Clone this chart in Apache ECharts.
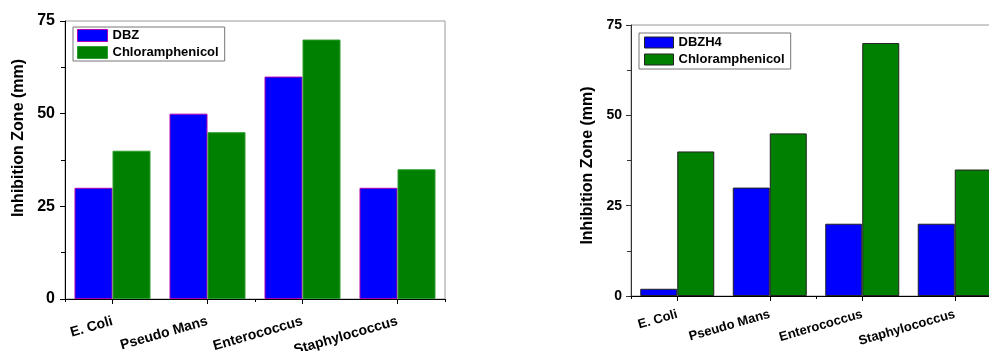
<!DOCTYPE html>
<html>
<head>
<meta charset="utf-8">
<script src="https://cdn.jsdelivr.net/npm/echarts@6/dist/echarts.min.js"></script>
<style>
html,body{margin:0;padding:0;background:#fff;}
#c{width:989px;height:351px;}
</style>
</head>
<body>
<div id="c"></div>
<script>
const categories = ['E. Coli', 'Pseudo Mans', 'Enterococcus', 'Staphylococcus'];
const dbz = [30, 50, 60, 30];
const chlorLeft = [40, 45, 70, 35];
const dbzh4 = [2, 30, 20, 20];
const chlorRight = [40, 45, 70, 35];
const yTicks = [0, 25, 50, 75];

const FONT = '"Liberation Sans", Arial, sans-serif';
const BLUE = '#0000ff';
const GREEN = '#008000';

function catAxes(gridIndex, labelSize, margin) {
  return [
    {
      type: 'category', gridIndex: gridIndex, data: categories, position: 'bottom',
      axisLine: { show: true, lineStyle: { color: '#000', width: 1 } },
      axisTick: { show: true, alignWithLabel: true, length: 5, lineStyle: { color: '#000' } },
      axisLabel: { rotate: 16, margin: margin, color: '#000', fontFamily: FONT, fontWeight: 'bold', fontSize: labelSize, interval: 0 },
      splitLine: { show: false }
    },
    {
      type: 'category', gridIndex: gridIndex, data: categories, position: 'bottom',
      axisLine: { show: false },
      axisTick: { show: true, alignWithLabel: false, length: 3, lineStyle: { color: '#000' } },
      axisLabel: { show: false },
      splitLine: { show: false }
    }
  ];
}

function valAxis(gridIndex, labelSize, margin, nameGap, pad, lineColor) {
  return {
    type: 'value', gridIndex: gridIndex, min: yTicks[0], max: yTicks[yTicks.length - 1], interval: 25,
    name: 'Inhibition Zone (mm)', nameLocation: 'middle', nameGap: nameGap,
    nameTextStyle: { color: '#000', fontFamily: FONT, fontWeight: 'bold', fontSize: 16, padding: pad },
    axisLine: { show: true, lineStyle: { color: lineColor, width: 1 } },
    axisTick: { show: true, length: 5, lineStyle: { color: lineColor } },
    minorTick: { show: true, splitNumber: 2, length: 4, lineStyle: { color: lineColor } },
    axisLabel: { color: '#000', fontFamily: FONT, fontWeight: 'bold', fontSize: labelSize, margin: margin },
    splitLine: { show: false }
  };
}

const chart = echarts.init(document.getElementById('c'), null, { renderer: 'canvas' });
chart.setOption({
  animation: false,
  backgroundColor: '#fff',
  grid: [
    { left: 65, top: 21, width: 380, height: 278, outerBoundsMode: 'none', containLabel: false, show: true, borderColor: '#999', borderWidth: 1, backgroundColor: 'transparent' },
    { left: 631, top: 25, width: 370, height: 271, outerBoundsMode: 'none', containLabel: false, show: true, borderColor: '#999', borderWidth: 1, backgroundColor: 'transparent' }
  ],
  xAxis: catAxes(0, 14, 22).concat(catAxes(1, 13, 18)),
  yAxis: [
    valAxis(0, 16, 10, 38, [0, 0, 0, 44], '#000'),
    valAxis(1, 14, 9, 35, [0, 10, 0, 0], '#333')
  ],
  legend: [
    {
      left: 73, top: 27, orient: 'vertical', itemWidth: 30, itemHeight: 12, itemGap: 4,
      padding: [2, 6, 2, 4], borderColor: '#777', borderWidth: 1, backgroundColor: '#fff',
      textStyle: { color: '#000', fontFamily: FONT, fontWeight: 'bold', fontSize: 13 },
      icon: 'rect',
      data: [
        { name: 'DBZ', itemStyle: { borderColor: '#b000b0', borderWidth: 1 } },
        { name: 'Chloramphenicol', itemStyle: { color: GREEN, borderColor: '#2e9e2e', borderWidth: 1 } }
      ]
    },
    {
      left: 639, top: 33, orient: 'vertical', itemWidth: 29, itemHeight: 11, itemGap: 4,
      padding: [3, 6, 3, 5], borderColor: '#777', borderWidth: 1, backgroundColor: '#fff',
      textStyle: { color: '#000', fontFamily: FONT, fontWeight: 'bold', fontSize: 13 },
      icon: 'rect',
      data: [
        { name: 'DBZH4', itemStyle: { borderColor: '#222', borderWidth: 1 } },
        { name: 'Chloramphenicol', itemStyle: { color: GREEN, borderColor: '#222', borderWidth: 1 } }
      ]
    }
  ],
  series: [
    { name: 'DBZ', type: 'bar', xAxisIndex: 0, yAxisIndex: 0, data: dbz, barGap: '0%', barCategoryGap: '20%',
      itemStyle: { color: BLUE, borderColor: '#b000b0', borderWidth: 1 } },
    { name: 'Chloramphenicol', type: 'bar', xAxisIndex: 0, yAxisIndex: 0, data: chlorLeft, barGap: '0%', barCategoryGap: '20%',
      itemStyle: { color: GREEN, borderColor: '#2e9e2e', borderWidth: 1 } },
    { name: 'DBZH4', type: 'bar', xAxisIndex: 2, yAxisIndex: 1, data: dbzh4, barGap: '0%', barCategoryGap: '20%',
      itemStyle: { color: BLUE, borderColor: '#222', borderWidth: 1 } },
    { name: 'Chloramphenicol', type: 'bar', xAxisIndex: 2, yAxisIndex: 1, data: chlorRight, barGap: '0%', barCategoryGap: '20%',
      itemStyle: { color: GREEN, borderColor: '#222', borderWidth: 1 } }
  ]
});
</script>
</body>
</html>
